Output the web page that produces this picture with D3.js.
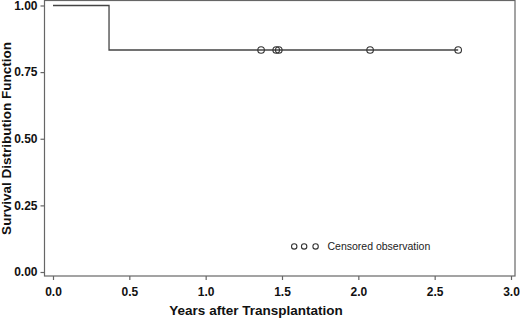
<!DOCTYPE html>
<html>
<head>
<meta charset="utf-8">
<script src="https://cdn.jsdelivr.net/npm/d3@7"></script>
<style>
  body { margin: 0; background: #fff; }
  text { font-family: "Liberation Sans", Arial, sans-serif; }
</style>
</head>
<body>
<div id="chart"></div>
<script>
// survival curve steps (time, survival)
var stepTimes = [0, 0.367];
var stepSurv = [1.0, 0.833];
var endTime = 2.654;
// censored observations
var censorTimes = [1.363, 1.462, 1.479, 2.077, 2.654];
var censorSurv = 0.833;
var xTicks = [0, 0.5, 1.0, 1.5, 2.0, 2.5, 3.0];
var yTicks = [0, 0.25, 0.5, 0.75, 1.0];

var W = 520, H = 319;
var svg = d3.select("#chart").append("svg")
  .attr("width", W).attr("height", H);

// set the ranges
var x = d3.scaleLinear().domain([0, 3]).range([53, 511]);
var y = d3.scaleLinear().domain([0, 1]).range([272, 5.5]);

var axisColor = "#666";

// plot frame
svg.append("rect")
  .attr("x", 44.5).attr("y", 0.5)
  .attr("width", 515 - 44.5).attr("height", 276 - 0.5)
  .attr("fill", "none").attr("stroke", axisColor).attr("stroke-width", 1.2);

// x axis
var gx = svg.append("g")
  .attr("transform", "translate(0,276)")
  .call(d3.axisBottom(x).tickValues(xTicks).tickSize(4).tickSizeOuter(0)
    .tickFormat(d3.format(".1f")));
// y axis
var gy = svg.append("g")
  .attr("transform", "translate(44.5,0)")
  .call(d3.axisLeft(y).tickValues(yTicks).tickSize(4).tickSizeOuter(0)
    .tickFormat(d3.format(".2f")));

[gx, gy].forEach(function (g) {
  g.select(".domain").remove();
  g.selectAll(".tick line").attr("stroke", axisColor).attr("stroke-width", 1.2);
  g.selectAll(".tick text")
    .attr("fill", "#111")
    .style("font-size", "12px")
    .style("font-weight", "bold");
});
gx.selectAll(".tick text").attr("dy", "1.05em");

// survival step line
var pts = stepTimes.map(function (t, i) { return [t, stepSurv[i]]; });
pts.push([endTime, stepSurv[stepSurv.length - 1]]);
var line = d3.line()
  .x(function (d) { return x(d[0]); })
  .y(function (d) { return y(d[1]); })
  .curve(d3.curveStepAfter);
svg.append("path")
  .datum(pts)
  .attr("d", line)
  .attr("fill", "none")
  .attr("stroke", "#444")
  .attr("stroke-width", 1.3);

// censored marks
svg.selectAll(".cens")
  .data(censorTimes)
  .enter().append("circle")
  .attr("class", "cens")
  .attr("cx", function (d) { return x(d); })
  .attr("cy", y(censorSurv))
  .attr("r", 3.3)
  .attr("fill", "none")
  .attr("stroke", "#333")
  .attr("stroke-width", 1.1);

// legend
var legendX = [1.58, 1.645, 1.72];
svg.selectAll(".leg")
  .data(legendX)
  .enter().append("circle")
  .attr("class", "leg")
  .attr("cx", function (d) { return x(d); })
  .attr("cy", y(0.096))
  .attr("r", 2.7)
  .attr("fill", "none")
  .attr("stroke", "#333")
  .attr("stroke-width", 1.1);
svg.append("text")
  .attr("x", 327.5).attr("y", y(0.096) + 4)
  .style("font-size", "10.5px")
  .attr("fill", "#222")
  .text("Censored observation");

// axis titles
svg.append("text")
  .attr("x", 256).attr("y", 315)
  .attr("text-anchor", "middle")
  .style("font-size", "13.5px").style("font-weight", "bold")
  .attr("fill", "#111")
  .text("Years after Transplantation");
svg.append("text")
  .attr("transform", "translate(11,138.5) rotate(-90)")
  .attr("text-anchor", "middle")
  .style("font-size", "13.5px").style("font-weight", "bold")
  .attr("fill", "#111")
  .text("Survival Distribution Function");
</script>
</body>
</html>
